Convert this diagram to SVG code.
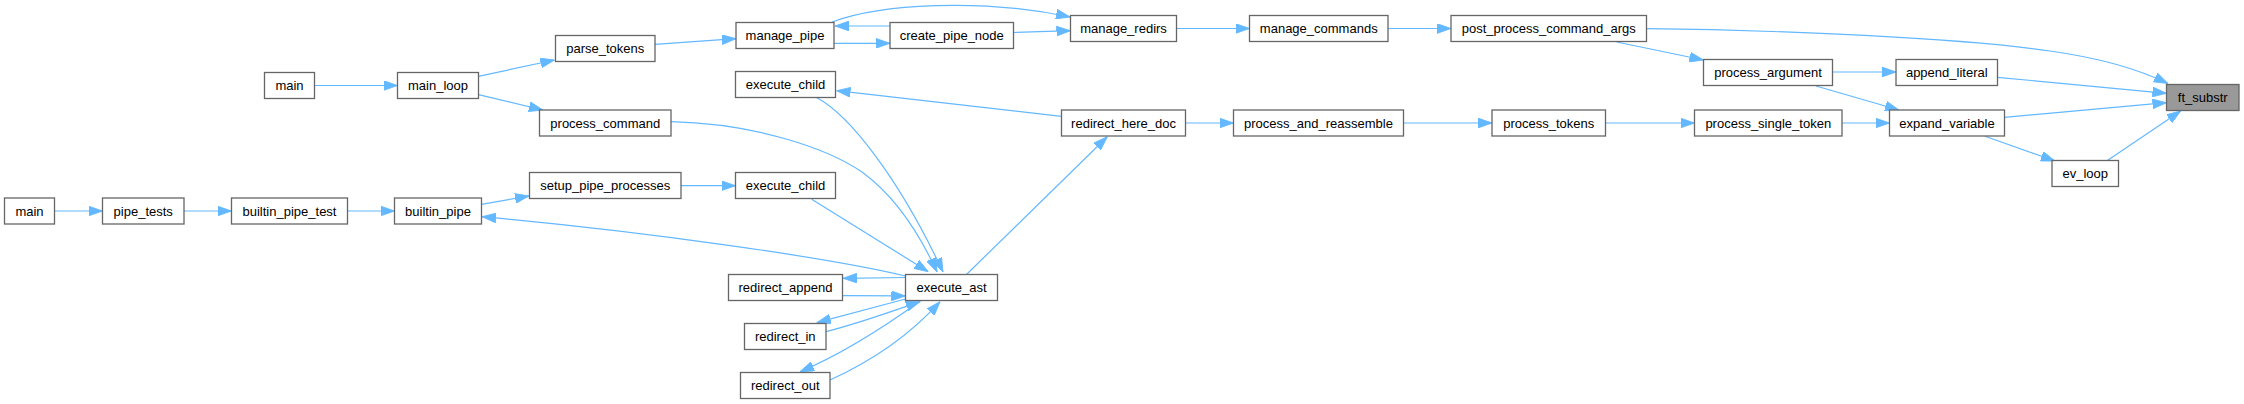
<svg xmlns="http://www.w3.org/2000/svg" width="2244" height="404" viewBox="0 0 2244 404">
<style>
.n rect{fill:#ffffff;stroke:#666666;stroke-width:1.3}
.n.focus rect{fill:#999999}
.n text{font-family:"Liberation Sans",Arial,Helvetica,sans-serif;font-size:13px;fill:#000000;text-anchor:middle}
.e path{fill:none;stroke:#63b8ff;stroke-width:1.2;marker-end:url(#ah)}
</style>
<defs>
<marker id="ah" markerUnits="userSpaceOnUse" markerWidth="14" markerHeight="10" viewBox="0 0 13.3 9.3" refX="13.3" refY="4.65" orient="auto">
<path d="M0,0 L13.3,4.65 L0,9.3 z" fill="#63b8ff" stroke="#63b8ff" stroke-width="0.8"/>
</marker>
</defs>
<rect width="2244" height="404" fill="#ffffff"/>
<g id="edges" class="e">
<path d="M314.5,85.5 L397.5,85.5"/>
<path d="M478.5,76.3 L554.5,60"/>
<path d="M478.5,94.7 L543,110"/>
<path d="M655,44.3 L736,38.7"/>
<path d="M834,43.3 L890,43.3"/>
<path d="M890,26 L835,26"/>
<path d="M832,22 C880,4 980,-2 1070,17"/>
<path d="M1013.5,32.5 L1070.5,30.7"/>
<path d="M1176.5,28.5 L1249.5,28.5"/>
<path d="M1388,28.5 L1451,28.5"/>
<path d="M1646.5,28.7 C1780,30 1960,38 2050,51 C2100,58 2140,70 2168,83.5"/>
<path d="M1616.7,42 L1703.5,60"/>
<path d="M1832.5,72 L1896,72"/>
<path d="M1816,86 L1899,110"/>
<path d="M1997.5,77.3 L2166.5,93.3"/>
<path d="M2004.5,117.3 L2166.5,102.7"/>
<path d="M1985,136.3 L2055,161"/>
<path d="M2107,160.7 L2180.7,111"/>
<path d="M671,121.7 C760,124 830,150 862,172 C895,196 920,235 937,272"/>
<path d="M816,97.3 C850,115 900,180 943,272"/>
<path d="M1061.5,116.3 L836.5,90.7"/>
<path d="M966.7,274.3 L1107.3,136.7"/>
<path d="M1185.5,123 L1233.5,123"/>
<path d="M1403.5,123 L1492,123"/>
<path d="M1605.5,123 L1694.5,123"/>
<path d="M1842,123 L1889.5,123"/>
<path d="M54.5,211 L102.5,211"/>
<path d="M184,211 L231.5,211"/>
<path d="M347.5,211 L394.5,211"/>
<path d="M481.5,204.3 L529,196"/>
<path d="M681,185.7 L735.5,185.7"/>
<path d="M811.7,199.3 L928.3,271.7"/>
<path d="M905.5,276 C830,258 650,232 482,216.7"/>
<path d="M905.5,277.5 L843,278.3"/>
<path d="M842.5,295.7 L905.5,295.9"/>
<path d="M905.5,299 C880,306 850,314 816.7,322.7"/>
<path d="M826,331.7 C860,323 890,312 920,301.7"/>
<path d="M921.7,300 C880,330 840,355 800,371.7"/>
<path d="M830,380 C870,362 910,335 940,301.7"/>
</g>
<g id="main1" class="n"><rect x="264.5" y="72.5" width="50" height="26"/><text x="289.5" y="90">main</text></g>
<g id="main_loop" class="n"><rect x="397.5" y="72.5" width="81" height="26"/><text x="438" y="90">main_loop</text></g>
<g id="parse_tokens" class="n"><rect x="555.5" y="35.5" width="99.5" height="26"/><text x="605.25" y="53">parse_tokens</text></g>
<g id="process_command" class="n"><rect x="539.5" y="110" width="131.5" height="26"/><text x="605.25" y="127.5">process_command</text></g>
<g id="setup_pipe_processes" class="n"><rect x="529.5" y="172.5" width="151.5" height="26"/><text x="605.25" y="190">setup_pipe_processes</text></g>
<g id="main2" class="n"><rect x="4.5" y="198" width="50" height="26"/><text x="29.5" y="215.5">main</text></g>
<g id="pipe_tests" class="n"><rect x="102.5" y="198" width="81.5" height="26"/><text x="143.25" y="215.5">pipe_tests</text></g>
<g id="builtin_pipe_test" class="n"><rect x="231.5" y="198" width="116" height="26"/><text x="289.5" y="215.5">builtin_pipe_test</text></g>
<g id="builtin_pipe" class="n"><rect x="394.5" y="198" width="87" height="26"/><text x="438" y="215.5">builtin_pipe</text></g>
<g id="manage_pipe" class="n"><rect x="736" y="22.5" width="98" height="26"/><text x="785" y="40">manage_pipe</text></g>
<g id="create_pipe_node" class="n"><rect x="890" y="22.5" width="123.5" height="26"/><text x="951.75" y="40">create_pipe_node</text></g>
<g id="execute_child1" class="n"><rect x="735.5" y="71.5" width="100" height="26"/><text x="785.5" y="89">execute_child</text></g>
<g id="execute_child2" class="n"><rect x="735.5" y="172.5" width="100" height="26"/><text x="785.5" y="190">execute_child</text></g>
<g id="redirect_append" class="n"><rect x="728.5" y="274.5" width="114" height="26"/><text x="785.5" y="292">redirect_append</text></g>
<g id="execute_ast" class="n"><rect x="905.5" y="274.5" width="92" height="26"/><text x="951.5" y="292">execute_ast</text></g>
<g id="redirect_in" class="n"><rect x="744.5" y="323.5" width="81.5" height="26"/><text x="785.25" y="341">redirect_in</text></g>
<g id="redirect_out" class="n"><rect x="740.5" y="372.5" width="89.5" height="26"/><text x="785.25" y="390">redirect_out</text></g>
<g id="manage_redirs" class="n"><rect x="1070.5" y="15.5" width="106" height="26"/><text x="1123.5" y="33">manage_redirs</text></g>
<g id="manage_commands" class="n"><rect x="1249.5" y="15.5" width="138.5" height="26"/><text x="1318.75" y="33">manage_commands</text></g>
<g id="redirect_here_doc" class="n"><rect x="1061.5" y="110" width="124" height="26"/><text x="1123.5" y="127.5">redirect_here_doc</text></g>
<g id="process_and_reassemble" class="n"><rect x="1233.5" y="110" width="170" height="26"/><text x="1318.5" y="127.5">process_and_reassemble</text></g>
<g id="post_process_command_args" class="n"><rect x="1451" y="15.5" width="195.5" height="26"/><text x="1548.75" y="33">post_process_command_args</text></g>
<g id="process_tokens" class="n"><rect x="1492" y="110" width="113.5" height="26"/><text x="1548.75" y="127.5">process_tokens</text></g>
<g id="process_argument" class="n"><rect x="1703.5" y="59.5" width="129" height="26"/><text x="1768" y="77">process_argument</text></g>
<g id="process_single_token" class="n"><rect x="1694.5" y="110" width="147.5" height="26"/><text x="1768.25" y="127.5">process_single_token</text></g>
<g id="append_literal" class="n"><rect x="1896" y="59.5" width="101.5" height="26"/><text x="1946.75" y="77">append_literal</text></g>
<g id="expand_variable" class="n"><rect x="1889.5" y="110" width="115" height="26"/><text x="1947" y="127.5">expand_variable</text></g>
<g id="ev_loop" class="n"><rect x="2052" y="160.5" width="66.5" height="26"/><text x="2085.25" y="178">ev_loop</text></g>
<g id="ft_substr" class="n focus"><rect x="2166.5" y="84.5" width="72.5" height="26"/><text x="2202.75" y="102">ft_substr</text></g>
</svg>
